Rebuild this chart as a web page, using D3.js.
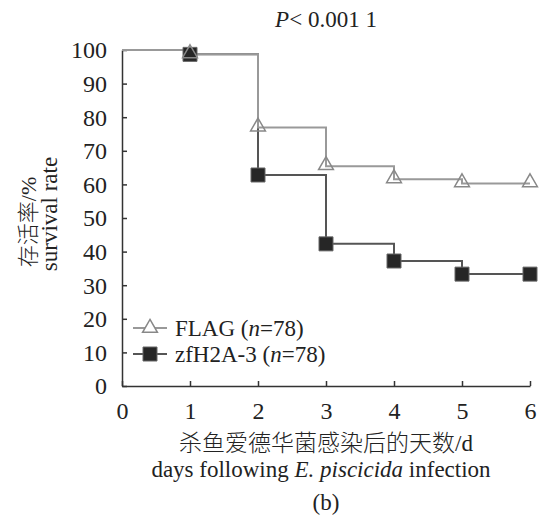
<!DOCTYPE html>
<html>
<head>
<meta charset="utf-8">
<script src="https://cdn.jsdelivr.net/npm/d3@7"></script>
<style>
  body { margin: 0; background: #fff; }
  text { font-family: "Liberation Serif", "Noto Sans CJK SC", serif; fill: #222; }
</style>
</head>
<body>
<script>
// survival data
var days = [1, 2, 3, 4, 5, 6];
var flagRate = [98.7, 76.9, 65.4, 61.5, 60.3, 60.3];
var zfRate = [98.7, 62.8, 42.3, 37.2, 33.3, 33.3];
var xTicks = [0, 1, 2, 3, 4, 5, 6];
var yTicks = [0, 10, 20, 30, 40, 50, 60, 70, 80, 90, 100];

var width = 542, height = 518;
var margin = {left: 122, top: 50, right: 12, bottom: 132};

var svg = d3.select("body").append("svg")
    .attr("width", width)
    .attr("height", height);

var x = d3.scaleLinear().domain([0, 6]).range([margin.left, width - margin.right]);
var y = d3.scaleLinear().domain([0, 100]).range([height - margin.bottom, margin.top]);

// axes, ticks point inward
var xAxis = svg.append("g")
    .attr("transform", "translate(0," + y(0) + ")")
    .call(d3.axisBottom(x).tickValues(xTicks).tickFormat(d3.format("d"))
        .tickSizeInner(-5).tickSizeOuter(0).tickPadding(33));
var yAxis = svg.append("g")
    .attr("transform", "translate(" + x(0) + ",0)")
    .call(d3.axisLeft(y).tickValues(yTicks).tickFormat(d3.format("d"))
        .tickSizeInner(-5).tickSizeOuter(0).tickPadding(15));

[xAxis, yAxis].forEach(function (g) {
    g.attr("font-size", null).attr("font-family", null);
    g.selectAll("path, line").attr("stroke", "#333").attr("stroke-width", 1.5);
    g.selectAll("text").style("font-size", "24px").attr("fill", "#222");
});
xAxis.selectAll("text").attr("dy", "0");
yAxis.selectAll("text").attr("dy", "0.33em");

// step lines starting at 100% on day 0
function steps(vals) {
    return [[0, 100]].concat(days.map(function (d, i) { return [d, vals[i]]; }));
}
var line = d3.line()
    .x(function (d) { return x(d[0]); })
    .y(function (d) { return y(d[1]); })
    .curve(d3.curveStepAfter);

svg.append("path")
    .attr("d", line(steps(zfRate)))
    .attr("fill", "none").attr("stroke", "#555").attr("stroke-width", 2);
svg.append("path")
    .attr("d", line(steps(flagRate)))
    .attr("fill", "none").attr("stroke", "#999").attr("stroke-width", 2);

var sq = d3.symbol().type(d3.symbolSquare).size(196);
var tri = d3.symbol().type(d3.symbolTriangle).size(95);

svg.append("g").selectAll("path")
    .data(days)
    .enter()
    .append("path")
    .attr("d", sq)
    .attr("transform", function (d, i) { return "translate(" + x(d) + "," + y(zfRate[i]) + ")"; })
    .attr("fill", "#262626").attr("stroke", "#666").attr("stroke-width", 1);

svg.append("g").selectAll("path")
    .data(days)
    .enter()
    .append("path")
    .attr("d", tri)
    .attr("transform", function (d, i) { return "translate(" + x(d) + "," + (y(flagRate[i]) - 1) + ")"; })
    .attr("fill", "none").attr("stroke", "#888").attr("stroke-width", 1.5);

// legend
var legend = [
    {name: "FLAG", n: "78", stroke: "#999"},
    {name: "zfH2A-3", n: "78", stroke: "#555"}
];
var lg = svg.append("g").selectAll("g")
    .data(legend)
    .enter()
    .append("g")
    .attr("transform", function (d, i) { return "translate(133," + (328 + i * 26) + ")"; });
lg.append("line")
    .attr("x1", 0).attr("x2", 34)
    .attr("stroke", function (d) { return d.stroke; }).attr("stroke-width", 2);
lg.append("path")
    .attr("transform", "translate(17,0)")
    .attr("d", function (d, i) { return i == 0 ? tri() : sq(); })
    .attr("fill", function (d, i) { return i == 0 ? "#fff" : "#262626"; })
    .attr("stroke", function (d, i) { return i == 0 ? "#888" : "#666"; })
    .attr("stroke-width", function (d, i) { return i == 0 ? 1.5 : 1; });
var lt = lg.append("text")
    .attr("x", 42).attr("y", 8)
    .style("font-size", "23px");
lt.append("tspan").text(function (d) { return d.name + " ("; });
lt.append("tspan").style("font-style", "italic").text("n");
lt.append("tspan").text(function (d) { return "=" + d.n + ")"; });

// title
var title = svg.append("text")
    .attr("x", x(3)).attr("y", 27)
    .attr("text-anchor", "middle")
    .style("font-size", "23px");
title.append("tspan").style("font-style", "italic").text("P");
title.append("tspan").text("< 0.001 1");

// axis titles
svg.append("text")
    .attr("x", x(3)).attr("y", 451)
    .attr("text-anchor", "middle")
    .style("font-size", "23px")
    .style("font-weight", "300")
    .text("杀鱼爱德华菌感染后的天数/d");
var xt = svg.append("text")
    .attr("x", 321).attr("y", 477)
    .attr("text-anchor", "middle")
    .style("font-size", "23px");
xt.append("tspan").text("days following ");
xt.append("tspan").style("font-style", "italic").text("E. piscicida");
xt.append("tspan").text(" infection");
svg.append("text")
    .attr("x", x(3)).attr("y", 510)
    .attr("text-anchor", "middle")
    .style("font-size", "23px")
    .text("(b)");

svg.append("text")
    .attr("transform", "translate(36,222) rotate(-90)")
    .attr("text-anchor", "middle")
    .style("font-size", "22px")
    .style("font-weight", "300")
    .text("存活率/%");
svg.append("text")
    .attr("transform", "translate(57,214) rotate(-90)")
    .attr("text-anchor", "middle")
    .style("font-size", "23px")
    .text("survival rate");
</script>
</body>
</html>
